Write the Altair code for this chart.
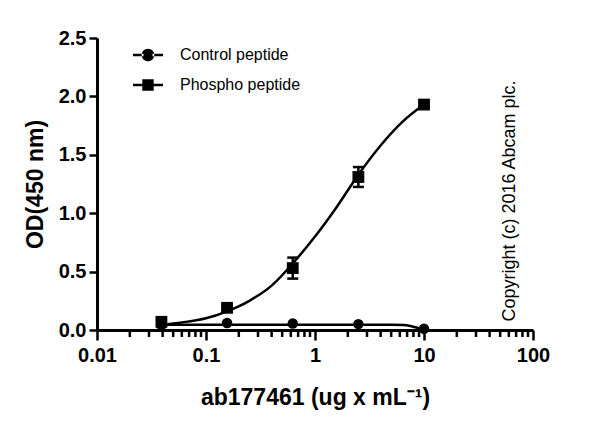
import altair as alt
import pandas as pd

# measured points (mean OD at each antibody concentration)
conc = [0.039, 0.156, 0.625, 2.5, 10]
control_od = [0.04, 0.06, 0.055, 0.05, 0.01]
phospho_od = [0.07, 0.19, 0.53, 1.31, 1.93]
phospho_sd = [0.02, 0.02, 0.09, 0.085, 0.02]

# fitted curves
phospho_curve_x = [0.039, 0.06, 0.1, 0.156, 0.25, 0.4, 0.625, 1.0, 1.6, 2.5, 4.0, 6.3, 10]
phospho_curve_y = [0.045, 0.065, 0.10, 0.16, 0.25, 0.38, 0.57, 0.80, 1.06, 1.33, 1.58, 1.78, 1.93]
control_curve_x = [0.039, 0.156, 0.625, 2.5, 5.0, 6.5, 7.5, 8.5, 9.3, 10]
control_curve_y = [0.045, 0.045, 0.045, 0.045, 0.045, 0.043, 0.035, 0.022, 0.01, 0.003]

series = ['Control peptide', 'Phospho peptide']
x_major = [0.01, 0.1, 1, 10, 100]
x_minor = [0.02, 0.03, 0.04, 0.05, 0.06, 0.07, 0.08, 0.09,
           0.2, 0.3, 0.4, 0.5, 0.6, 0.7, 0.8, 0.9,
           2, 3, 4, 5, 6, 7, 8, 9,
           20, 30, 40, 50, 60, 70, 80, 90]
y_ticks = [0, 0.5, 1.0, 1.5, 2.0, 2.5]

FONT = 'Liberation Sans'
Y_TITLE = 'OD(450 nm)'

points = pd.DataFrame({
    'conc': conc * 2,
    'od': control_od + phospho_od,
    'sd': [0] * len(conc) + phospho_sd,
    'series': [series[0]] * len(conc) + [series[1]] * len(conc),
})
points['lo'] = points['od'] - points['sd']
points['hi'] = points['od'] + points['sd']

curves = pd.DataFrame({
    'conc': control_curve_x + phospho_curve_x,
    'od': control_curve_y + phospho_curve_y,
    'series': [series[0]] * len(control_curve_x) + [series[1]] * len(phospho_curve_x),
})

x_enc = alt.X('conc:Q',
              scale=alt.Scale(type='log', domain=[0.01, 100], nice=False),
              axis=alt.Axis(values=x_major, tickSize=10,
                            title='ab177461 (ug x mL⁻¹)',
                            labelExpr='toString(datum.value)',
                            labelFlush=False, labelOverlap=False))
y_enc = alt.Y('od:Q',
              scale=alt.Scale(domain=[0, 2.5], nice=False),
              axis=alt.Axis(values=y_ticks, format='.1f', title=Y_TITLE,
                            tickSize=8, labelFlush=False))

lines = alt.Chart(curves).mark_line(
    color='black', strokeWidth=2.5, interpolate='monotone'
).encode(x=x_enc, y=y_enc, detail='series:N')

# short minor ticks under the log axis
minor = alt.Chart(pd.DataFrame({'conc': x_minor})).mark_tick(
    orient='vertical', size=7, thickness=2.5, color='black', opacity=1
).encode(x='conc:Q', y=alt.datum(-0.03))

bars = alt.Chart(points).transform_filter('datum.sd > 0')
err_rule = bars.mark_rule(color='black', strokeWidth=2.5).encode(
    x='conc:Q', y=alt.Y('lo:Q', title=Y_TITLE), y2='hi:Q')
cap_lo = bars.mark_tick(orient='horizontal', size=11, thickness=2.5, color='black', opacity=1).encode(
    x='conc:Q', y=alt.Y('lo:Q', title=Y_TITLE))
cap_hi = bars.mark_tick(orient='horizontal', size=11, thickness=2.5, color='black', opacity=1).encode(
    x='conc:Q', y=alt.Y('hi:Q', title=Y_TITLE))

dots = alt.Chart(points).mark_point(filled=True, color='black', opacity=1).encode(
    x='conc:Q', y='od:Q',
    shape=alt.Shape('series:N', scale=alt.Scale(domain=series, range=['circle', 'square']), legend=None),
    size=alt.Size('series:N', scale=alt.Scale(domain=series, range=[110, 140]), legend=None),
)

# legend glyphs: marker with a short line through it (line drawn as thin filled bars)
line_bits = 'M-1,-0.08L-0.3,-0.08L-0.3,0.08L-1,0.08ZM0.3,-0.08L1,-0.08L1,0.08L0.3,0.08Z'
circ_path = line_bits + 'M-0.42,0A0.42,0.42,0,1,0,0.42,0A0.42,0.42,0,1,0,-0.42,0Z'
sq_path = line_bits + 'M-0.38,-0.38L0.38,-0.38L0.38,0.38L-0.38,0.38Z'

legend_layer = alt.Chart(points).transform_filter('datum.od < 0').mark_point(
    filled=True, color='black', opacity=1
).encode(
    x='conc:Q', y='od:Q',
    shape=alt.Shape('series:N', scale=alt.Scale(domain=series, range=[circ_path, sq_path]),
                    legend=alt.Legend(title=None, orient='none', legendX=35, legendY=1,
                                      symbolSize=900, symbolFillColor='black',
                                      labelFont=FONT, labelFontSize=16, labelColor='black',
                                      labelOffset=16, rowPadding=4, padding=0)),
)

copyright = alt.Chart(pd.DataFrame({'t': ['Copyright (c) 2016 Abcam plc.']})).mark_text(
    angle=270, font=FONT, fontSize=18, color='black', align='center', baseline='middle'
).encode(x=alt.value(413), y=alt.value(163), text='t:N')

chart = alt.layer(lines, minor, err_rule, cap_lo, cap_hi, dots, legend_layer, copyright).resolve_scale(
    shape='independent', size='independent'
).properties(
    width=436, height=292, autosize='none',
    padding={'left': 89, 'top': 30, 'right': 55, 'bottom': 83},
).configure_view(
    stroke=None
).configure_axis(
    domainColor='black', domainWidth=3, tickColor='black', tickWidth=2.5,
    labelFont=FONT, labelFontSize=20, labelFontWeight='bold', labelColor='black',
    titleFont=FONT, titleFontSize=23, titleFontWeight='bold', titleColor='black',
    grid=False, labelPadding=3
).configure_axisX(
    labelPadding=5, titlePadding=21
).configure_axisY(
    titlePadding=11
)

chart.save('out.html', embed_options={'renderer': 'svg', 'actions': False})
